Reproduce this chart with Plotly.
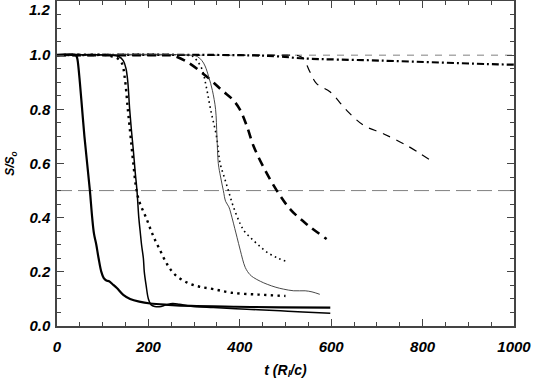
import plotly.graph_objects as go

# curves: time t (R_l/c) and S/S0
t_a = [0, 41, 44, 46, 50, 55, 60, 66, 72, 77, 81, 86, 91, 97, 102, 108, 114, 121, 131, 145, 160, 180, 204, 244, 293, 391, 489, 598]
s_a = [1, 1, 0.99, 0.97, 0.9, 0.8, 0.7, 0.6, 0.5, 0.4, 0.34, 0.3, 0.25, 0.2, 0.178, 0.168, 0.165, 0.155, 0.14, 0.115, 0.1, 0.09, 0.083, 0.078, 0.074, 0.071, 0.069, 0.068]

t_b = [0, 116, 135, 145, 151, 155, 159, 163, 167, 171, 175, 179, 182, 185, 189, 191, 195, 200, 206, 214, 224, 239, 253, 268, 293, 342, 391, 440, 489, 538, 598]
s_b = [1, 1, 0.995, 0.98, 0.95, 0.9, 0.8, 0.72, 0.65, 0.57, 0.5, 0.4, 0.35, 0.3, 0.25, 0.2, 0.15, 0.1, 0.078, 0.072, 0.071, 0.078, 0.083, 0.08, 0.073, 0.068, 0.064, 0.06, 0.056, 0.052, 0.047]

t_c = [0, 111, 121, 131, 142, 148, 155, 161, 167, 174, 180, 187, 195, 204, 212, 224, 241, 258, 285, 312, 343, 381, 440, 500]
s_c = [1, 1, 0.995, 0.99, 0.97, 0.92, 0.8, 0.7, 0.6, 0.5, 0.46, 0.43, 0.4, 0.36, 0.327, 0.285, 0.228, 0.19, 0.16, 0.145, 0.136, 0.123, 0.116, 0.111]

t_d = [0, 293, 307, 317, 324, 332, 340, 347, 350, 353, 358, 364, 369, 376, 383, 389, 394, 401, 412, 422, 430, 445, 460, 479, 496, 518, 543, 558, 575]
s_d = [1, 1, 0.995, 0.98, 0.96, 0.92, 0.87, 0.8, 0.7, 0.6, 0.55, 0.5, 0.46, 0.44, 0.4, 0.36, 0.327, 0.28, 0.216, 0.19, 0.179, 0.165, 0.154, 0.143, 0.136, 0.13, 0.13, 0.126, 0.117]

t_e = [0, 283, 298, 306, 317, 327, 336, 349, 357, 366, 375, 386, 401, 410, 423, 440, 460, 484, 505]
s_e = [1, 1, 0.995, 0.98, 0.95, 0.88, 0.8, 0.7, 0.6, 0.55, 0.5, 0.44, 0.377, 0.35, 0.327, 0.3, 0.272, 0.25, 0.237]

t_f = [0, 230, 243, 255, 285, 328, 361, 385, 400, 415, 430, 452, 481, 511, 547, 590]
s_f = [1, 1, 1, 0.998, 0.975, 0.92, 0.87, 0.835, 0.8, 0.74, 0.665, 0.586, 0.5, 0.43, 0.375, 0.321]

t_g = [0, 500, 520, 528, 539, 553, 568, 598, 634, 671, 714, 765, 818]
s_g = [1, 1, 1, 0.998, 0.988, 0.94, 0.895, 0.864, 0.796, 0.741, 0.71, 0.667, 0.611]

t_h = [0, 400, 480, 539, 707, 965, 1000]
s_h = [1, 1, 0.996, 0.988, 0.98, 0.966, 0.965]

ref_levels = [1.0, 0.5]

x_ticks = [0, 200, 400, 600, 800, 1000]
y_ticks = [0.0, 0.2, 0.4, 0.6, 0.8, 1.0, 1.2]

fig = go.Figure()

# reference levels
fig.add_hline(y=ref_levels[0], line=dict(color='#808080', width=1, dash='7px,7px'), layer='below')
fig.add_hline(y=ref_levels[1], line=dict(color='#808080', width=1, dash='15px,6px'), layer='below')

curves = [
    (t_h, s_h, dict(color='black', width=2.2, dash='7px,3px,2px,3px')),
    (t_g, s_g, dict(color='black', width=1.2, dash='8px,7px')),
    (t_f, s_f, dict(color='black', width=2.6, dash='9px,6px')),
    (t_e, s_e, dict(color='black', width=1.6, dash='1.6px,3.4px')),
    (t_d, s_d, dict(color='#333333', width=0.9)),
    (t_c, s_c, dict(color='black', width=2.4, dash='2.4px,4.3px')),
    (t_b, s_b, dict(color='black', width=1.5)),
    (t_a, s_a, dict(color='black', width=2.2)),
]
for t, s, ln in curves:
    fig.add_trace(go.Scatter(x=t, y=s, mode='lines', line=ln, line_shape='spline',
                             showlegend=False))

tick_font = dict(family='Liberation Sans', size=15, color='black', weight=700, style='italic')
title_font = dict(family='Liberation Sans', size=14, color='black', weight=700, style='italic')

# the top label sits lower than its tick in the original, so it is drawn apart
y_text = ['%.1f' % v for v in y_ticks]
y_text[-1] = ''

fig.update_xaxes(range=[0, 1000], tickvals=x_ticks, ticktext=[str(v) for v in x_ticks],
                 showgrid=False, zeroline=False, showline=True, linecolor='#444', linewidth=1.5,
                 mirror='allticks', ticks='inside', ticklen=7, tickwidth=1.2, tickcolor='#444',
                 minor=dict(dtick=50, ticks='inside', ticklen=4, tickcolor='#444', tickwidth=1),
                 tickfont=tick_font, ticklabelstandoff=6, automargin=False,
                 title=dict(text='t (R<sub>l</sub>/c)', font=title_font, standoff=11))
fig.update_yaxes(range=[0, 1.2], tickvals=y_ticks, ticktext=y_text,
                 showgrid=False, zeroline=False, showline=True, linecolor='#444', linewidth=1.5,
                 mirror='allticks', ticks='inside', ticklen=7, tickwidth=1.2, tickcolor='#444',
                 minor=dict(dtick=0.05, ticks='inside', ticklen=4, tickcolor='#444', tickwidth=1),
                 tickfont=tick_font, ticklabelstandoff=2, automargin=False,
                 title=dict(text='S/S<sub>o</sub>', font=dict(family='Liberation Sans', size=12,
                                                             color='black', weight=700, style='italic'),
                            standoff=12))

fig.add_annotation(text='%.1f' % y_ticks[-1], x=0, y=y_ticks[-1], xref='paper', yref='y',
                   xanchor='right', yanchor='top', xshift=-4, yshift=2, showarrow=False,
                   font=tick_font)

fig.update_layout(width=533, height=381, plot_bgcolor='white', paper_bgcolor='white',
                  margin=dict(l=57, r=19, t=1, b=55))

# drop the page's default body margin so the figure fills the window
fig.write_html('out.html', config={'displayModeBar': False},
               post_script="document.body.style.margin='0';")
